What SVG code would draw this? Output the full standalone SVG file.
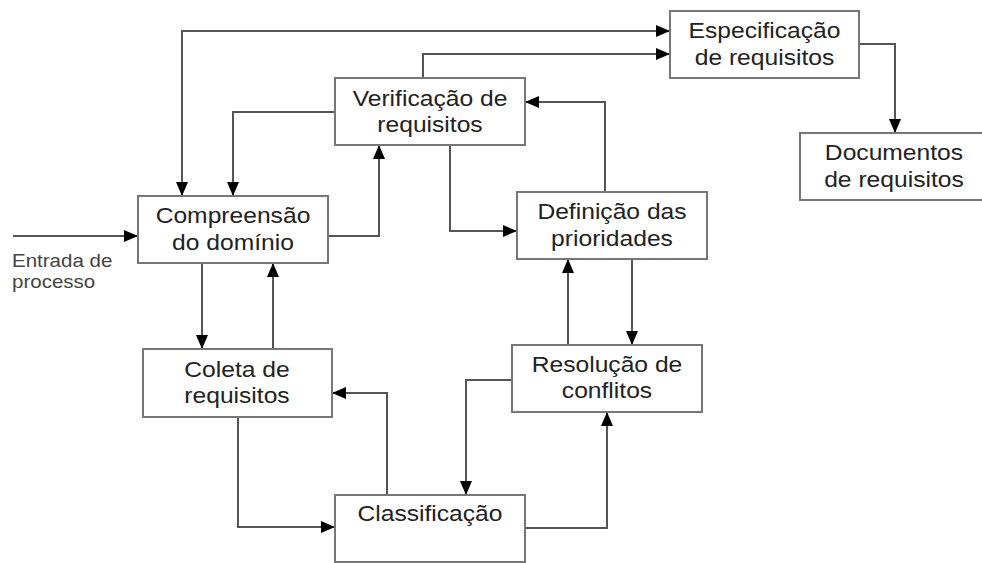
<svg xmlns="http://www.w3.org/2000/svg" width="982" height="563" viewBox="0 0 982 563">
<defs>
<marker id="ah" viewBox="0 0 14 12" refX="14" refY="6" markerWidth="14" markerHeight="12" markerUnits="userSpaceOnUse" orient="auto-start-reverse">
<path d="M0,0 L14,6 L0,12 z" fill="#000"/>
</marker>
<style>
.box{fill:#fff;stroke:#777;stroke-width:2}
.t{font-family:"Liberation Sans",Arial,sans-serif;font-size:22px;fill:#222;text-anchor:middle;transform-box:fill-box;transform-origin:center;transform:scaleX(1.12)}
.lbl{font-family:"Liberation Sans",Arial,sans-serif;font-size:18px;fill:#444;transform-box:fill-box;transform-origin:left;transform:scaleX(1.14)}
.c{fill:none;stroke:#555;stroke-width:2;marker-end:url(#ah)}
</style>
</defs>
<rect width="982" height="563" fill="#fff"/>
<g id="connectors">
<path class="c" d="M13,236 H138"/>
<path class="c" style="marker-start:url(#ah)" d="M182,196 V31 H670"/>
<path class="c" d="M423,78 V54 H670"/>
<path class="c" d="M335,112 H233 V196"/>
<path class="c" d="M328,236 H379 V145"/>
<path class="c" d="M450,145 V231 H517"/>
<path class="c" d="M605,192 V102 H525"/>
<path class="c" d="M859,44 H895 V133"/>
<path class="c" d="M202,263 V349"/>
<path class="c" d="M273,349 V263"/>
<path class="c" d="M238,417 V527 H335"/>
<path class="c" d="M387,495 V393 H332"/>
<path class="c" d="M512,380 H466 V495"/>
<path class="c" d="M525,528 H607 V412"/>
<path class="c" d="M632,259 V345"/>
<path class="c" d="M568,345 V259"/>
</g>
<g id="especificacao">
<rect class="box" x="670" y="11" width="189" height="67"/>
<text class="t" x="764.5" y="38">Especificação</text>
<text class="t" x="764.5" y="65">de requisitos</text>
</g>
<g id="documentos">
<rect class="box" x="800" y="133" width="190" height="67"/>
<text class="t" x="894" y="160">Documentos</text>
<text class="t" x="894" y="187">de requisitos</text>
</g>
<g id="verificacao">
<rect class="box" x="335" y="78" width="190" height="67"/>
<text class="t" x="430" y="106">Verificação de</text>
<text class="t" x="430" y="132">requisitos</text>
</g>
<g id="compreensao">
<rect class="box" x="138" y="196" width="190" height="67"/>
<text class="t" x="233" y="223">Compreensão</text>
<text class="t" x="233" y="250">do domínio</text>
</g>
<g id="definicao">
<rect class="box" x="517" y="192" width="190" height="67"/>
<text class="t" x="612" y="219">Definição das</text>
<text class="t" x="612" y="246">prioridades</text>
</g>
<g id="coleta">
<rect class="box" x="143" y="349" width="189" height="68"/>
<text class="t" x="237" y="377">Coleta de</text>
<text class="t" x="237" y="403">requisitos</text>
</g>
<g id="resolucao">
<rect class="box" x="512" y="345" width="190" height="67"/>
<text class="t" x="607" y="372">Resolução de</text>
<text class="t" x="607" y="398">conflitos</text>
</g>
<g id="classificacao">
<rect class="box" x="335" y="495" width="190" height="67"/>
<text class="t" x="430" y="521">Classificação</text>
</g>
<g id="entrada">
<text class="lbl" x="12" y="267">Entrada de</text>
<text class="lbl" x="12" y="288">processo</text>
</g>
</svg>
